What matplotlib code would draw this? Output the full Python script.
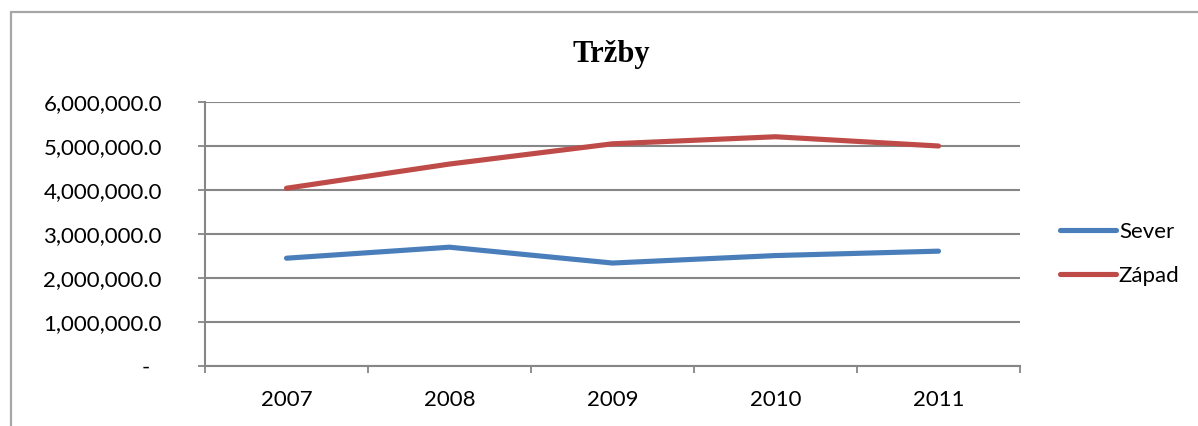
import matplotlib
matplotlib.use('Agg')
import matplotlib.pyplot as plt
from matplotlib.patches import Rectangle
from matplotlib.ticker import FuncFormatter, FixedLocator

years = ['2007', '2008', '2009', '2010', '2011']
sever = [2450000, 2700000, 2340000, 2510000, 2610000]
zapad = [4040000, 4590000, 5050000, 5210000, 5000000]

grid_col = '#868686'
W, H = 1198, 426

fig = plt.figure(figsize=(W / 100, H / 100), dpi=100)
ax = fig.add_axes([205 / W, 1 - 366 / H, 815 / W, 264 / H])

# outer chart border like the spreadsheet
fig.patches.append(Rectangle((11 / W, -0.1), 1.2, 1 - 12 / H + 0.1, transform=fig.transFigure,
                             fill=False, edgecolor='#a6a6a6', linewidth=1.6))

x = list(range(len(years)))
ax.plot(x, sever, color='#4A7EBB', linewidth=3.7, solid_capstyle='round', label='Sever')
ax.plot(x, zapad, color='#BE4B48', linewidth=3.7, solid_capstyle='round', label='Západ')

ax.set_xlim(-0.5, len(years) - 0.5)
ax.set_ylim(0, 6000000)
ax.set_yticks([0, 1000000, 2000000, 3000000, 4000000, 5000000, 6000000])
ax.yaxis.set_major_formatter(FuncFormatter(lambda v, p: '-  ' if v == 0 else f'{v:,.1f}'))
ax.grid(axis='y', color=grid_col, linewidth=1.5)
ax.set_axisbelow(True)

# category boundaries as ticks, labels centred
ax.xaxis.set_major_locator(FixedLocator([i - 0.5 for i in range(len(years) + 1)]))
ax.xaxis.set_minor_locator(FixedLocator(x))
ax.set_xticklabels([])
ax.set_xticklabels(years, minor=True)
ax.tick_params(axis='x', which='major', length=5, width=1.3, color=grid_col)
ax.tick_params(axis='x', which='minor', length=0, pad=17, labelsize=16)
ax.tick_params(axis='y', length=5, width=1.3, color=grid_col, labelsize=16, pad=26)

for s in ['top', 'right']:
    ax.spines[s].set_visible(False)
for s in ['left', 'bottom']:
    ax.spines[s].set_color(grid_col)
    ax.spines[s].set_linewidth(1.5)

for lbl in ax.get_xticklabels(minor=True) + ax.get_yticklabels():
    lbl.set_fontfamily(['Lato', 'DejaVu Sans'])

fig.text(611 / W, 1 - 62 / H, 'Tržby', ha='center', va='baseline', fontsize=22,
         fontweight='bold', family='Liberation Serif')

leg = fig.legend(loc='center left', bbox_to_anchor=(1060 / W, 1 - 254 / H), frameon=False,
                 borderpad=0, borderaxespad=0, handlelength=2.5, handletextpad=0.15,
                 labelspacing=1.1, prop={'family': 'Lato', 'size': 16})

fig.savefig('out.png', dpi=100)
